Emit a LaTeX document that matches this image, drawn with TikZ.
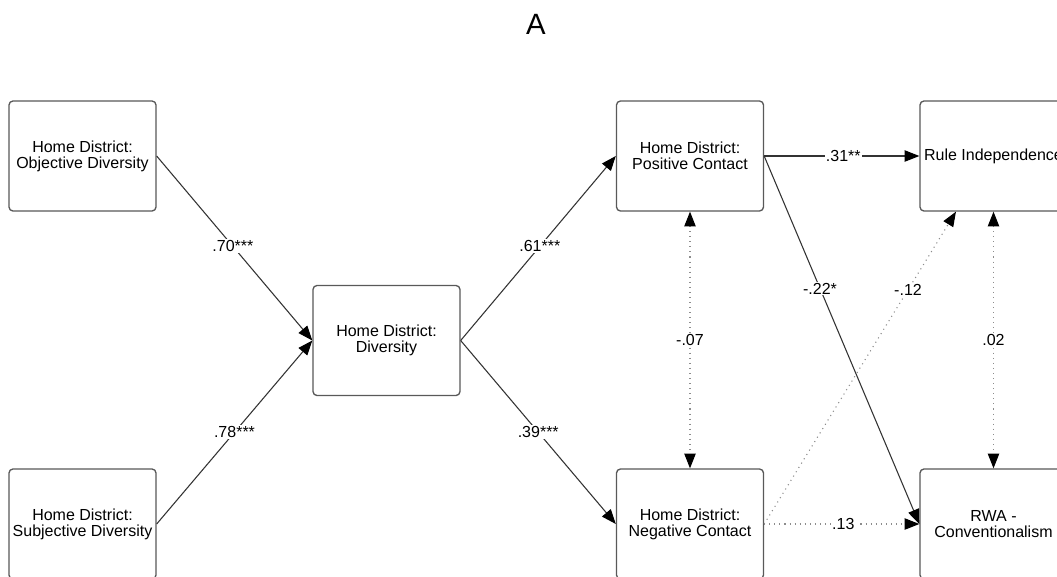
\documentclass[tikz,border=0pt]{standalone}
\usepackage{fontspec}
\setmainfont{Liberation Sans}
\usetikzlibrary{arrows.meta}
\begin{document}
\begin{tikzpicture}[x=0.75pt,y=-0.75pt,
  >={Triangle[length=11pt,width=8.5pt,color=black]},
  var/.style={draw=black!65, line width=1pt, rounded corners=3pt, fill=white,
    minimum width=110.25pt, minimum height=82.5pt, align=center, inner sep=0pt,
    font=\fontsize{12}{12}\selectfont},
  link/.style={draw=black!80, line width=0.8pt, ->},
  dots/.style={draw=black!45, line width=0.8pt, dash pattern=on 0.8pt off 3pt},
  coef/.style={fill=white, inner sep=1pt, text=black, font=\fontsize{12}{12}\selectfont}
]
\useasboundingbox (0,0) rectangle (1057,576);
\fill[white] (0,0) rectangle (1057,576);
\clip (0,0) rectangle (1057,576);

\node (title) at (536,24) {\fontsize{22}{22}\selectfont A};

% observed variables
\node[var] (obj)  at (82.5,156)   {Home District:\\Objective Diversity};
\node[var] (subj) at (82.5,524)   {Home District:\\Subjective Diversity};
\node[var] (div)  at (386.5,340.5) {Home District:\\Diversity};
\node[var] (pos)  at (690,156)    {Home District:\\Positive Contact};
\node[var] (neg)  at (690,524)    {Home District:\\Negative Contact};
\node[var] (rule) at (993.5,156)  {Rule Independence};
\node[var] (rwa)  at (993.5,524)  {RWA -\\Conventionalism};

% directed paths
\draw[link] (obj.east)  -- node[coef,pos=0.49] {.70***} (div.west);
\draw[link] (subj.east) -- node[coef,pos=0.5] {.78***} (div.west);
\draw[link] (div.east)  -- node[coef,pos=0.51] {.61***} (pos.west);
\draw[link] (div.east)  -- node[coef,pos=0.5] {.39***} (neg.west);
\draw[link] (pos.east)  -- node[coef,pos=0.51] {.31**} (rule.west);
\draw[link] (pos.east)  -- node[coef,pos=0.36] {-.22*} (rwa.west);
\draw[dots,->] (neg.east) -- node[coef,pos=0.75] {-.12} (rule.236);
\draw[dots,->] (neg.east) -- node[coef,pos=0.51] {.13} (rwa.west);

% covariances
\draw[dots,<->] (pos.south) -- node[coef] {-.07} (neg.north);
\draw[dots,<->] (rule.south) -- node[coef] {.02} (rwa.north);
\end{tikzpicture}
\end{document}
